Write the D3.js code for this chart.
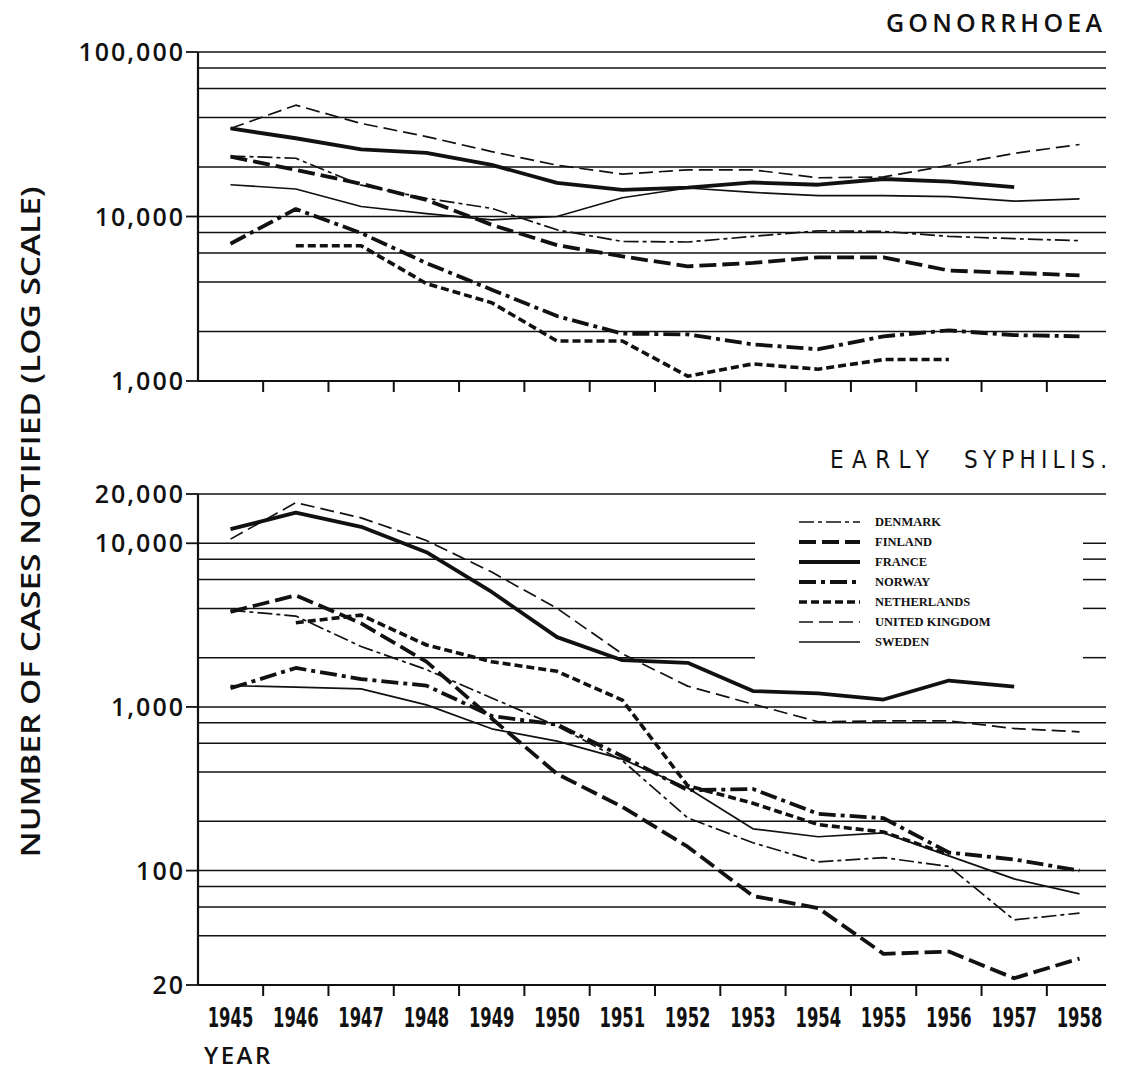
<!DOCTYPE html>
<html><head><meta charset="utf-8">
<script src="https://cdn.jsdelivr.net/npm/d3@7"></script>
<style>body{margin:0;background:#fff}svg{display:block}</style>
</head><body>
<svg id="c" width="1121" height="1073"></svg>
<script>
// ---------- DATA ----------
const years = [1945,1946,1947,1948,1949,1950,1951,1952,1953,1954,1955,1956,1957,1958];
const countries = ["DENMARK","FINLAND","FRANCE","NORWAY","NETHERLANDS","UNITED KINGDOM","SWEDEN"];

// Gonorrhoea (cases notified)
const gonDenmark     = [23300,22600,15500,12900,11200,8300,7050,7000,7570,8180,8120,7570,7330,7130];
const gonFinland     = [23100,19200,15800,12600,8900,6700,5720,4980,5220,5650,5650,4690,4540,4390];
const gonFrance      = [34300,29900,25600,24400,20600,16000,14500,15000,16100,15600,16900,16300,15100,null];
const gonNorway      = [6830,11100,7930,5210,3590,2480,1940,1920,1670,1560,1870,2030,1900,1870];
const gonNetherlands = [null,6640,6640,3910,2990,1750,1750,1070,1270,1180,1350,1350,null,null];
const gonUK          = [34300,47500,36800,30600,24800,20500,18100,19200,19200,17200,17400,20500,24200,27400];
const gonSweden      = [15600,14700,11500,10400,9550,10000,13000,14900,14000,13400,13400,13200,12400,12800];

// Early syphilis (cases notified)
const syphDenmark     = [3900,3590,2340,1690,1135,764,470,210,148,113,120,106,50,55];
const syphFinland     = [3810,4810,3240,1890,850,390,245,140,70,59,31,32,22,29];
const syphFrance      = [12200,15400,12600,8820,5040,2670,1930,1860,1250,1210,1110,1450,1330,null];
const syphNorway      = [1300,1730,1480,1350,880,780,500,310,315,222,209,129,117,100];
const syphNetherlands = [null,3270,3640,2390,1890,1650,1100,330,258,191,172,125,null,null];
const syphUK          = [10600,17700,14300,10400,6670,4000,2110,1340,1040,811,822,822,738,705];
const syphSweden      = [1350,1320,1290,1030,735,618,480,320,180,161,170,123,89,72];

const gonGrid  = [100000,80000,60000,40000,20000,10000,8000,6000,4000,2000,1000];
const gonTicks = [100000,10000,1000];
const gonTickLabels = ["100,000","10,000","1,000"];
const syphGrid  = [20000,10000,8000,6000,4000,2000,1000,800,600,400,200,100,80,60,40,20];
const syphTicks = [20000,10000,1000,100,20];
const syphTickLabels = ["20,000","10,000","1,000","100","20"];
const legendGapValues = [10000,8000,6000,4000,2000];

// ---------- STYLES ----------
const styles = {
  "DENMARK":        {w:1.7, dash:"15,4,4,4"},
  "FINLAND":        {w:3.8, dash:"17,6"},
  "FRANCE":         {w:3.8, dash:null},
  "NORWAY":         {w:3.8, dash:"17,5,4,5"},
  "NETHERLANDS":    {w:3.6, dash:"8,4"},
  "UNITED KINGDOM": {w:1.7, dash:"14,6"},
  "SWEDEN":         {w:1.7, dash:null}
};

const svg = d3.select("#c");
const X0 = 198, X1 = 1106;
const x = d3.scaleLinear().domain([1945,1958]).range([230.5,1079.5]);
const tickYears = d3.range(1945.5, 1958, 1);
const yTop = d3.scaleLog().domain([1000,100000]).range([381,52]);
const yBot = d3.scaleLog().domain([20,20000]).range([985,494]);
const ink = "#111";
const labelFont = "'Open Sans','DejaVu Sans', sans-serif";
const condFont = "'DejaVu Sans Condensed','DejaVu Sans',sans-serif";

function panel(y, grid, ticks, tickLabels, series, gapValues) {
  const g = svg.append("g");
  grid.forEach(v => {
    const yy = y(v);
    const isAxis = v === y.domain()[0];
    if (gapValues && gapValues.includes(v)) {
      [[X0,755],[1083,X1]].forEach(([a,b]) => g.append("line").attr("x1",a).attr("x2",b)
        .attr("y1",yy).attr("y2",yy).attr("stroke",ink).attr("stroke-width",1.5));
    } else {
      g.append("line").attr("x1",X0).attr("x2",X1).attr("y1",yy).attr("y2",yy)
        .attr("stroke",ink).attr("stroke-width", isAxis ? 2.2 : 1.5);
    }
  });
  g.append("line").attr("x1",X0).attr("x2",X0).attr("y1",y.range()[1]).attr("y2",y.range()[0])
    .attr("stroke",ink).attr("stroke-width",2.2);
  ticks.forEach((v,i) => {
    g.append("line").attr("x1",X0-12).attr("x2",X0).attr("y1",y(v)).attr("y2",y(v))
      .attr("stroke",ink).attr("stroke-width",1.8);
    g.append("text").attr("x",X0-13).attr("y",y(v)+9).attr("text-anchor","end")
      .attr("font-family",labelFont).attr("font-weight",600).attr("font-size",25)
      .attr("letter-spacing",2).attr("fill",ink).text(tickLabels[i]);
  });
  const yb = y.range()[0];
  tickYears.forEach(t => g.append("line").attr("x1",x(t)).attr("x2",x(t)).attr("y1",yb).attr("y2",yb+11)
      .attr("stroke",ink).attr("stroke-width",2));
  const line = d3.line().defined(d => d.v != null).x(d => x(d.year)).y(d => y(d.v));
  countries.forEach(c => {
    const data = years.map((yr,i) => ({year:yr, v:series[c][i]}));
    const st = styles[c];
    g.append("path").attr("d", line(data)).attr("fill","none").attr("stroke",ink)
      .attr("stroke-width",st.w).attr("stroke-dasharray",st.dash).attr("stroke-linejoin","round");
  });
}

panel(yTop, gonGrid, gonTicks, gonTickLabels, {
  "DENMARK":gonDenmark,"FINLAND":gonFinland,"FRANCE":gonFrance,"NORWAY":gonNorway,
  "NETHERLANDS":gonNetherlands,"UNITED KINGDOM":gonUK,"SWEDEN":gonSweden}, null);
panel(yBot, syphGrid, syphTicks, syphTickLabels, {
  "DENMARK":syphDenmark,"FINLAND":syphFinland,"FRANCE":syphFrance,"NORWAY":syphNorway,
  "NETHERLANDS":syphNetherlands,"UNITED KINGDOM":syphUK,"SWEDEN":syphSweden}, legendGapValues);

// x labels (condensed via horizontal scale)
years.forEach(yr => svg.append("text")
  .attr("transform",`translate(${x(yr)},1027) scale(0.7,1)`).attr("text-anchor","middle")
  .attr("font-family",condFont).attr("font-weight","bold").attr("font-size",26)
  .attr("fill",ink).text(yr));
svg.append("text").attr("x",204).attr("y",1064).attr("font-family",labelFont).attr("font-weight",600)
  .attr("font-size",24).attr("letter-spacing",2.5).attr("fill",ink).text("YEAR");

// titles
svg.append("text").attr("x",886).attr("y",32).attr("font-family",labelFont).attr("font-weight",600)
  .attr("font-size",25).attr("textLength",216).attr("lengthAdjust","spacing").attr("fill",ink).text("GONORRHOEA");
svg.append("text").attr("x",830).attr("y",468).attr("font-family",condFont)
  .attr("font-size",24).attr("textLength",99).attr("lengthAdjust","spacing").attr("fill",ink).text("EARLY");
svg.append("text").attr("x",964).attr("y",468).attr("font-family",condFont)
  .attr("font-size",24).attr("textLength",143).attr("lengthAdjust","spacing").attr("fill",ink).text("SYPHILIS.");

// y axis title
svg.append("text").attr("transform","translate(40,522) rotate(-90)").attr("text-anchor","middle")
  .attr("font-family",labelFont).attr("font-weight",600).attr("font-size",27).attr("textLength",671)
  .attr("lengthAdjust","spacingAndGlyphs").attr("fill",ink).text("NUMBER OF CASES NOTIFIED (LOG SCALE)");

// legend
const lg = svg.append("g");
countries.forEach((c,i) => {
  const yy = 522 + i*20;
  const st = styles[c];
  lg.append("line").attr("x1",799).attr("x2",860).attr("y1",yy).attr("y2",yy).attr("stroke",ink)
    .attr("stroke-width",st.w).attr("stroke-dasharray",st.dash);
  lg.append("text").attr("x",875).attr("y",yy+4).attr("font-family","'Liberation Serif',serif")
    .attr("font-weight","bold").attr("font-size",12.5).attr("fill",ink).text(c);
});
</script>
</body></html>
